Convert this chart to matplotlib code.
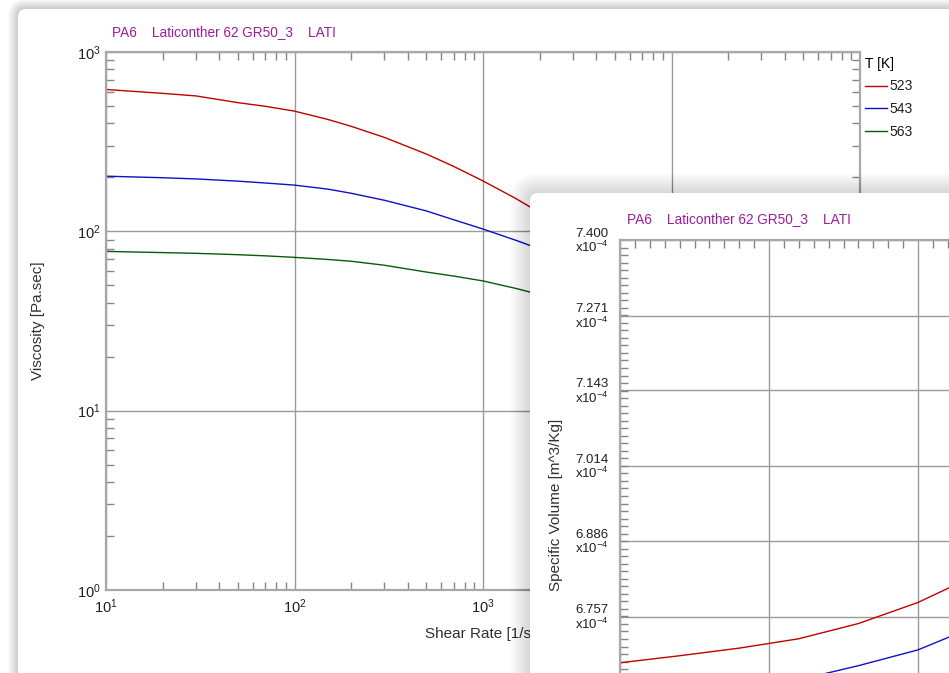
import numpy as np
import matplotlib
matplotlib.use("Agg")
import matplotlib.pyplot as plt
from matplotlib.patches import FancyBboxPatch
from matplotlib.ticker import LogLocator, MultipleLocator, FixedLocator, NullFormatter

plt.rcParams["font.family"] = ["Liberation Sans", "DejaVu Sans"]
plt.rcParams["mathtext.fontset"] = "custom"
plt.rcParams["mathtext.rm"] = "Liberation Sans"
plt.rcParams["mathtext.default"] = "regular"

# viscosity curves (back panel)
shear_rate = [10, 20, 30, 50, 70, 100, 150, 200, 300, 500, 700, 1000, 1500, 2000, 3000]
visc_523 = [618, 588, 569, 522, 498, 468, 421, 385, 334, 270, 230, 191, 152, 127, 97.5]
visc_543 = [203, 199, 196, 190.5, 186, 181, 172, 163, 149, 130, 116, 103, 89, 79.7, 67]
visc_563 = [77.3, 76.1, 75.4, 74.1, 73.0, 71.6, 69.7, 68.1, 64.7, 59.3, 56.3, 52.9, 48.0, 44.4, 39.5]
temps = ["523", "543", "563"]

# specific volume curves (front panel), values in 1e-4 m^3/kg
pvt_x = [300, 320, 340, 360, 380, 400, 410, 430]
sv_red = [6.678, 6.690, 6.703, 6.719, 6.745, 6.781, 6.805, 6.862]
sv_blue = [6.609, 6.620, 6.632, 6.649, 6.673, 6.700, 6.721, 6.768]
sv_green = [6.545, 6.555, 6.566, 6.582, 6.604, 6.625, 6.640, 6.690]
sv_ticks = [6.500, 6.629, 6.757, 6.886, 7.014, 7.143, 7.271, 7.400]

title = "PA6    Laticonther 62 GR50_3    LATI"
colors = ["#c00000", "#1010c8", "#0a5a0a"]
purple = "#9c1c9c"
spine_c = "#a8a8a8"
grid_c = "#9a9a9a"
txt_c = "#202020"
FS = 9.5

W, H = 949, 673
fig = plt.figure(figsize=(W / 100, H / 100), dpi=100)


def fx(px):
    return px / W


def fy(py):
    return 1 - py / H


def panel(x0, top, n, alpha, z):
    # white card with a soft shadow, x0/top in pixels from top-left
    x = x0 / 100
    y = -3.0
    w = 15.0
    h = (H - top) / 100 + 3.0
    for i in range(n, 0, -1):
        fig.add_artist(FancyBboxPatch(
            (x, y), w, h,
            boxstyle=f"round,pad={i / 100},rounding_size={0.08 + i / 100}",
            transform=fig.dpi_scale_trans, facecolor="k", edgecolor="none",
            alpha=alpha, zorder=z))
    fig.add_artist(FancyBboxPatch(
        (x, y), w, h, boxstyle="round,pad=0,rounding_size=0.08",
        transform=fig.dpi_scale_trans, facecolor="white", edgecolor="none",
        zorder=z + 0.1))


def style_axes(ax, size):
    for s in ax.spines.values():
        s.set_color(spine_c)
        s.set_linewidth(1.6)
    ax.tick_params(which="both", direction="in", color="#858585",
                   labelsize=size, labelcolor=txt_c, top=True, right=True)
    ax.tick_params(which="major", length=0, width=1)
    ax.tick_params(which="minor", length=5.5, width=1)
    ax.grid(True, which="major", color=grid_c, linewidth=1)


# ---- back panel: viscosity ----
panel(18, 9, 10, 0.021, -3)

ax1 = fig.add_axes([fx(106), fy(590), fx(860) - fx(106), fy(52) - fy(590)])
ax1.set_zorder(1)
ax1.set_xscale("log")
ax1.set_yscale("log")
ax1.set_xlim(10, 1e5)
ax1.set_ylim(1, 1000)
for vals, c, t in zip([visc_523, visc_543, visc_563], colors, temps):
    ax1.plot(shear_rate, vals, color=c, linewidth=1.0, label=t)
style_axes(ax1, 10.5)
ax1.xaxis.set_minor_locator(LogLocator(base=10, subs=np.arange(2, 10)))
ax1.yaxis.set_minor_locator(LogLocator(base=10, subs=np.arange(2, 10)))
ax1.xaxis.set_minor_formatter(NullFormatter())
ax1.yaxis.set_minor_formatter(NullFormatter())
ax1.tick_params(axis="y", pad=4)
ax1.tick_params(axis="x", pad=5)
leg = ax1.legend(loc="upper left", bbox_to_anchor=(1.0, 1.0), borderaxespad=0,
                 title="T [K]", alignment="left", frameon=False, fontsize=10,
                 title_fontsize=10, handlelength=1.6, handletextpad=0.2,
                 labelspacing=0.62, borderpad=0.35)
for t in leg.get_texts():
    t.set_color(txt_c)
fig.text(fx(38), fy(321), "Viscosity [Pa.sec]", rotation=90, fontsize=11,
         color="#303030", ha="center", va="center", zorder=1.5)
fig.text(fx(488), fy(634), "Shear Rate [1/sec]", fontsize=11,
         color="#303030", ha="center", va="center", zorder=1.5)
fig.text(fx(112), fy(32), title, color=purple, fontsize=9.8,
         ha="left", va="center", zorder=1.5)

# ---- front panel: specific volume ----
panel(530, 193, 20, 0.0085, 2)

ax2 = fig.add_axes([fx(620), fy(767), fx(1067) - fx(620), fy(240) - fy(767)])
ax2.set_zorder(3)
ax2.set_xlim(300, 450)
ax2.set_ylim(6.5, 7.4)
for vals, c in zip([sv_red, sv_blue, sv_green], colors):
    ax2.plot(pvt_x, vals, color=c, linewidth=1.0)
style_axes(ax2, FS)
ax2.xaxis.set_major_locator(MultipleLocator(50))
ax2.xaxis.set_minor_locator(MultipleLocator(5))
ax2.yaxis.set_major_locator(FixedLocator(sv_ticks))
ax2.yaxis.set_minor_locator(FixedLocator(np.linspace(6.5, 7.4, 71)))
# the two lowest labels fall below the visible part of the window
ax2.set_yticklabels([f"{v:.3f}\nx10$^{{-4}}$" if v > 6.7 else "" for v in sv_ticks],
                    linespacing=1.0, ha="right")
ax2.tick_params(axis="y", pad=8)
ax2.tick_params(axis="x", labelbottom=False)
fig.text(fx(556), fy(505), "Specific Volume [m^3/Kg]", rotation=90,
         fontsize=11, color="#303030", ha="center", va="center", zorder=4)
fig.text(fx(627), fy(219), title, color=purple, fontsize=9.8,
         ha="left", va="center", zorder=4)

fig.savefig("out.png", dpi=100)
